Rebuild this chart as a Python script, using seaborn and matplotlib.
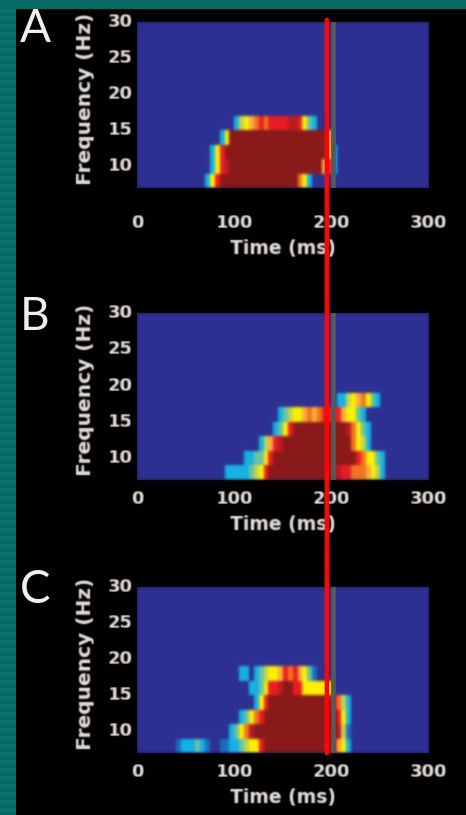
import numpy as np
import pandas as pd
import matplotlib
matplotlib.use("Agg")
import matplotlib.pyplot as plt
from matplotlib.colors import ListedColormap
from matplotlib.patches import ConnectionPatch, Rectangle
import seaborn as sns

W, H = 466, 815

# one row per frequency band, one value per 5 ms bin (power level 0-10)
freq_bands = [8, 10, 12, 14, 16, 18, 20, 22, 24, 26, 28, 30]
time_ticks = [0, 100, 200, 300]
freq_ticks = [10, 15, 20, 25, 30]
panel_names = ["A", "B", "C"]

a_8 = [0]*14 + [2, 5, 8] + [10]*16 + [7, 5, 2]
a_10 = [0]*15 + [2, 5, 8, 9] + [10]*19 + [6, 8, 2]
a_12 = [0]*15 + [2, 5, 8] + [10]*21 + [6, 2]
a_14 = [0]*17 + [2, 5] + [10]*20 + [6]
a_16 = [0]*20 + [2, 4, 5, 6, 7, 8, 7, 8, 8, 8, 8, 9, 9, 8, 5, 3, 2]

b_8 = [0]*18 + [2, 2, 2, 2, 2, 3, 4, 5, 8] + [10]*13 + [9, 9, 8, 8, 7, 7, 7, 6, 5, 4, 2]
b_10 = [0]*22 + [2, 2, 3, 3, 5, 8] + [10]*17 + [8, 7, 5, 5, 3, 2]
b_12 = [0]*25 + [2, 4, 6, 8, 9] + [10]*14 + [7, 5, 4, 2]
b_14 = [0]*28 + [2, 3, 5, 8] + [10]*11 + [9, 7, 5, 3, 2]
b_16 = [0]*29 + [2, 3, 4, 5, 5, 6, 7, 6, 7, 8, 8, 8, 8, 6, 5, 5, 3, 2]
b_18 = [0]*41 + [2, 2, 4, 5, 6, 7, 5, 3, 2]

c_8 = [0]*8 + [1, 2, 2, 2, 3, 2, 1, 0, 0, 1, 1, 2, 2, 3, 4, 5, 5, 8] + [10]*14 + [8, 6, 5, 2]
c_10 = [0]*19 + [2, 3, 5, 7, 9] + [10]*17 + [9, 4, 1]
c_12 = [0]*21 + [2, 3, 5, 7, 8] + [10]*15 + [8, 5, 2]
c_14 = [0]*24 + [2, 5, 8] + [10]*13 + [8, 7, 4, 2]
c_16 = [0]*23 + [2, 2, 3, 5, 8, 8, 9, 10, 10, 8, 8, 5, 5, 5, 5, 5, 5]
c_18 = [0]*21 + [2, 2, 0, 2, 3, 4, 5, 5, 6, 8, 7, 8, 6, 5, 3, 1]

panel_rows = [
    [a_8, a_10, a_12, a_14, a_16],
    [b_8, b_10, b_12, b_14, b_16, b_18],
    [c_8, c_10, c_12, c_14, c_16, c_18],
]

# axes boxes in pixels: top, bottom
panel_tops = [22, 313, 587]
panel_bottoms = [188, 480, 753]
left_px, right_px = 137, 429
xtick_pads = [19, 7, 7]
letter_y = [29, 317, 590]

level_colors = ["#2e3192", "#1c6fc4", "#14b4e6", "#6cc5a4", "#c4d84c", "#fff200",
                "#fbb03b", "#f47521", "#ed1c24", "#bd1a22", "#8b1a1a"]
text_color = "#e8dfd8"

sns.set_theme(style="dark")
plt.rcParams["font.family"] = ["DejaVu Sans"]
plt.rcParams["font.weight"] = "bold"
plt.rcParams["axes.labelweight"] = "bold"


def soften(sigma):
    # small gaussian blur, the source picture is a soft screenshot
    xs = np.arange(-5, 6)
    kernel = np.exp(-xs**2 / (2 * sigma**2))
    kernel /= kernel.sum()

    def apply(img, dpi):
        pad = 7
        out = np.pad(img, ((pad, pad), (pad, pad), (0, 0)))
        out = np.apply_along_axis(lambda v: np.convolve(v, kernel, mode="same"), 0, out)
        out = np.apply_along_axis(lambda v: np.convolve(v, kernel, mode="same"), 1, out)
        return out, -pad, -pad
    return apply


fig = plt.figure(figsize=(W / 100, H / 100), dpi=100, facecolor="black")
# teal slide background with faint stripes
for y in range(0, H, 4):
    shade = "#07726f" if y % 8 == 0 else "#056966"
    fig.add_artist(Rectangle((0, 1 - (y + 4) / H), 16 / W, 4 / H, transform=fig.transFigure, color=shade, lw=0))
fig.add_artist(Rectangle((0, 1 - 9 / H), 1, 9 / H, transform=fig.transFigure, color="#056966", lw=0))

axes = []
for i_p, (name, rows) in enumerate(zip(panel_names, panel_rows)):
    top, bottom = panel_tops[i_p], panel_bottoms[i_p]
    ax = fig.add_axes([left_px / W, 1 - bottom / H, (right_px - left_px) / W, (bottom - top) / H])
    ax.set_facecolor(level_colors[0])
    axes.append(ax)

    grid = np.zeros((len(freq_bands), 60))
    for i, row in enumerate(rows):
        grid[i, :len(row)] = row
    df = pd.DataFrame(grid, index=freq_bands, columns=np.arange(60) * 5)

    sns.heatmap(df, ax=ax, cmap=ListedColormap(level_colors), vmin=-0.5, vmax=10.5, cbar=False)
    ax.collections[0].set_agg_filter(soften(1.4))

    # 12 bands of 2 Hz starting at 7 Hz, the top one is cut at 30 Hz
    ax.set_ylim(0, (30 - 7) / 2)
    ax.set_xlim(0, 60)
    ax.set_xticks([t / 5 for t in time_ticks])
    ax.set_xticklabels(time_ticks, rotation=0)
    ax.set_yticks([(f - 7) / 2 for f in freq_ticks])
    ax.set_yticklabels(freq_ticks, rotation=0)
    ax.tick_params(axis="x", length=0, pad=xtick_pads[i_p], labelsize=13, labelcolor=text_color)
    ax.tick_params(axis="y", length=0, pad=3, labelsize=13, labelcolor=text_color)
    ax.set_xlabel("Time (ms)", fontsize=13.5, color=text_color, labelpad=5)
    ax.set_ylabel("Frequency (Hz)", fontsize=14.5, color=text_color, labelpad=9, y=0.54)
    for txt in ax.get_xticklabels() + ax.get_yticklabels() + [ax.xaxis.label, ax.yaxis.label]:
        txt.set_agg_filter(soften(0.7))

    # gray marker at 200 ms
    ax.axvline(201 / 5, color="#555a55", lw=3.4, zorder=3)
    for s in ax.spines.values():
        s.set_visible(False)

    fig.text(35 / W, 1 - letter_y[i_p] / H, name, fontsize=33, fontweight="normal", color="#f2eeea",
             ha="center", va="center", fontfamily=["Lato", "DejaVu Sans"])

# red line through all three panels
red_bin = 195 / 5
line = ConnectionPatch(xyA=(red_bin, 11.65), coordsA=axes[0].transData,
                       xyB=(red_bin, 0), coordsB=axes[2].transData,
                       color="#f50a0a", lw=3.2, zorder=10, shrinkA=0, shrinkB=0)
fig.add_artist(line)

fig.savefig("out.png", dpi=100, facecolor="black")
